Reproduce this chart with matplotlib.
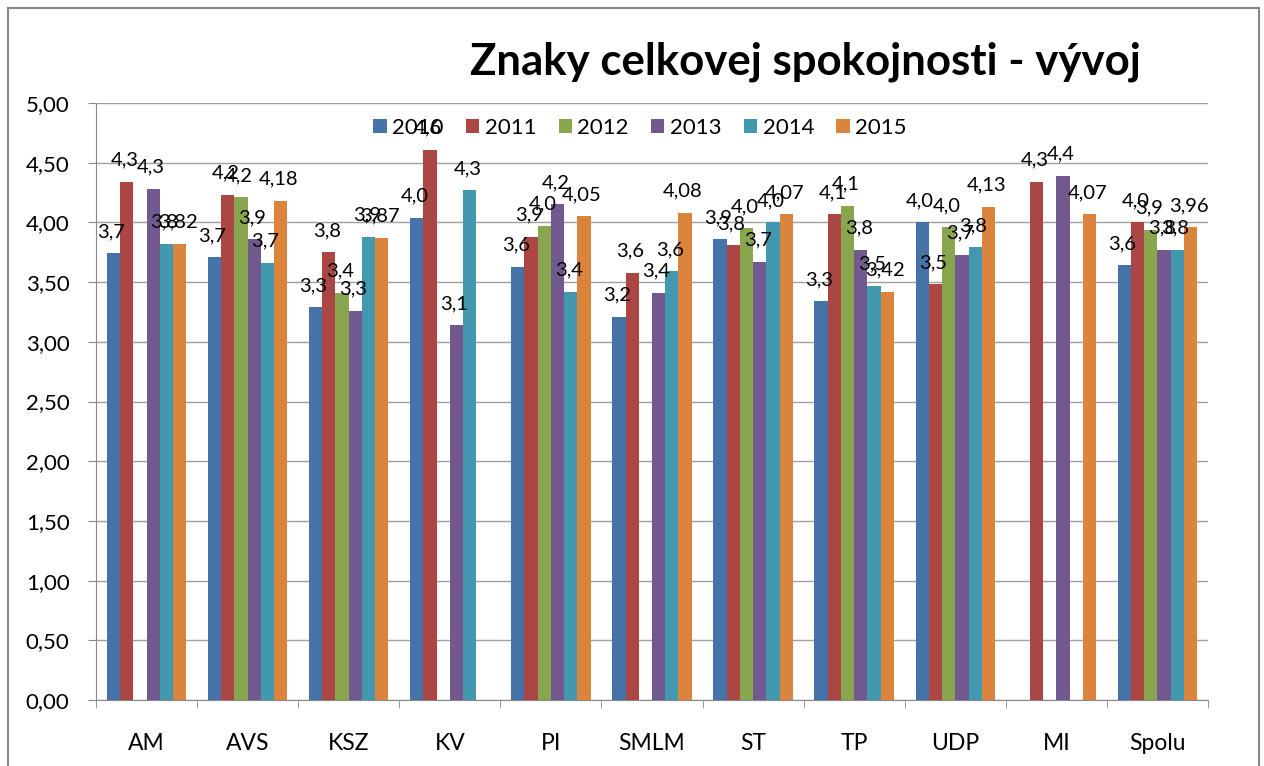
import numpy as np
import matplotlib
matplotlib.use("Agg")
import matplotlib.pyplot as plt
from matplotlib.patches import Rectangle
from matplotlib.ticker import FuncFormatter

plt.rcParams['font.family'] = ['Lato', 'DejaVu Sans']

categories = ["AM", "AVS", "KSZ", "KV", "PI", "SMLM", "ST", "TP", "UDP", "MI", "Spolu"]
years = ["2010", "2011", "2012", "2013", "2014", "2015"]
nan = np.nan

# values (nan = no bar)
v2010 = [3.74, 3.71, 3.29, 4.04, 3.63, 3.21, 3.86, 3.34, 4.00, nan, 3.64]
v2011 = [4.34, 4.23, 3.75, 4.61, 3.88, 3.58, 3.81, 4.07, 3.48, 4.34, 4.00]
v2012 = [nan, 4.21, 3.41, nan, 3.97, nan, 3.95, 4.14, 3.96, nan, 3.94]
v2013 = [4.28, 3.86, 3.26, 3.14, 4.15, 3.41, 3.67, 3.77, 3.73, 4.39, 3.77]
v2014 = [3.82, 3.66, 3.88, 4.27, 3.42, 3.59, 4.00, 3.47, 3.79, nan, 3.77]
v2015 = [3.82, 4.18, 3.87, nan, 4.05, 4.08, 4.07, 3.42, 4.13, 4.07, 3.96]

series = [v2010, v2011, v2012, v2013, v2014, v2015]
decimals = [1, 1, 1, 1, 1, 2]
colors = ["#4572A7", "#AA4643", "#89A54E", "#71588F", "#4198AF", "#DB843D"]

fig = plt.figure(figsize=(12.64, 7.66), dpi=100)
ax = fig.add_axes([96 / 1264, 1 - 700 / 766, (1208 - 96) / 1264, (700 - 103) / 766])

# outer chart frame
fig.patches.append(Rectangle((8 / 1264, -0.01), (1259 - 8) / 1264, 1 - 8 / 766 + 0.01,
                             transform=fig.transFigure, fill=False, edgecolor="#888888", lw=1.5))

x = np.arange(len(categories))
w = 0.131
for i, (vals, c) in enumerate(zip(series, colors)):
    pos = x + (i - 2.5) * w
    ax.bar(pos, vals, width=w, color=c, label=years[i], zorder=3)
    for p, v in zip(pos, vals):
        if np.isnan(v):
            continue
        txt = f"{v:.{decimals[i]}f}".replace(".", ",")
        ax.text(p - 0.02, v + 0.11, txt, ha="center", va="bottom", fontsize=14.5, color="black", zorder=4)

ax.set_xlim(-0.5, len(categories) - 0.5)
ax.set_ylim(0, 5)
ax.set_yticks(np.arange(0, 5.01, 0.5))
ax.yaxis.set_major_formatter(FuncFormatter(lambda v, p: f"{v:.2f}".replace(".", ",")))
ax.set_xticks(x)
ax.set_xticklabels(categories, fontsize=16.5)
ax.set_xticks(np.arange(-0.5, len(categories)), minor=True)
ax.tick_params(axis="x", which="major", length=0, pad=24)
ax.tick_params(axis="x", which="minor", length=6, color="#888888", direction="out")
ax.tick_params(axis="y", length=6, color="#888888", labelsize=16, pad=13)
ax.grid(axis="y", color="#a0a0a0", lw=1, zorder=0)
for s in ["top", "right"]:
    ax.spines[s].set_visible(False)
for s in ["left", "bottom"]:
    ax.spines[s].set_color("#888888")

ax.legend(loc="center", bbox_to_anchor=(544 / 1112, 1 - 25 / 597), ncol=6, frameon=False,
          fontsize=16, handlelength=0.6, handleheight=0.6, handletextpad=0.25, columnspacing=1.0)

fig.text(805 / 1264, 1 - 62 / 766, "Znaky celkovej spokojnosti - vývoj", ha="center", va="center",
         fontsize=31.5, fontweight="bold")

fig.savefig("out.png", dpi=100)
